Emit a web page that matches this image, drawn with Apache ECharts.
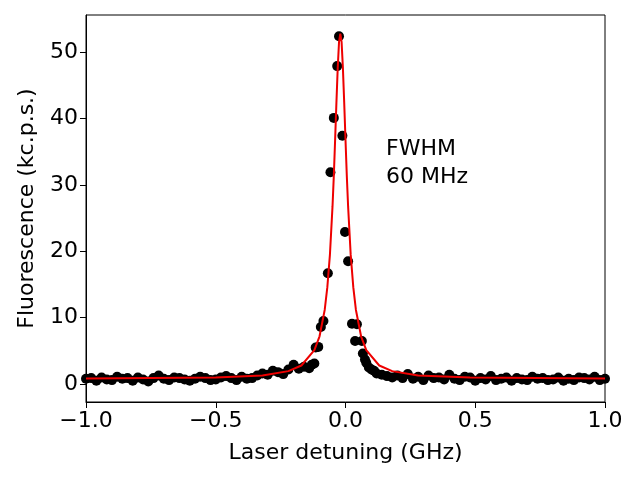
<!DOCTYPE html>
<html><head><meta charset="utf-8">
<script src="https://cdn.jsdelivr.net/npm/echarts@6/dist/echarts.min.js"></script>
<style>html,body{margin:0;background:#fff}#c{width:640px;height:480px}</style>
</head><body><div id="c"></div>
<script>
// measured points (GHz, kc.p.s.)
const dataX = [-1.0,-0.98,-0.96,-0.94,-0.92,-0.9,-0.88,-0.86,-0.84,-0.82,-0.8,-0.78,-0.76,-0.74,-0.72,-0.7,-0.68,-0.66,-0.64,-0.62,-0.6,-0.58,-0.56,-0.54,-0.52,-0.5,-0.48,-0.46,-0.44,-0.42,-0.4,-0.38,-0.36,-0.34,-0.32,-0.3,-0.28,-0.26,-0.24,-0.22,-0.2,-0.18,-0.16,-0.14,-0.13,-0.12,-0.115,-0.105,-0.095,-0.085,-0.068,-0.058,-0.045,-0.032,-0.025,-0.012,-0.002,0.01,0.025,0.037,0.044,0.063,0.067,0.075,0.08,0.09,0.1,0.11,0.12,0.14,0.16,0.18,0.2,0.22,0.24,0.26,0.28,0.3,0.32,0.34,0.36,0.38,0.4,0.42,0.44,0.46,0.48,0.5,0.52,0.54,0.56,0.58,0.6,0.62,0.64,0.66,0.68,0.7,0.72,0.74,0.76,0.78,0.8,0.82,0.84,0.86,0.88,0.9,0.92,0.94,0.96,0.98,1.0];
const dataY = [0.8,0.9,0.5,1.0,0.7,0.6,1.1,0.8,0.9,0.5,1.0,0.7,0.4,0.9,1.3,0.8,0.6,1.0,0.9,0.7,0.5,0.8,1.1,0.9,0.6,0.7,1.0,1.2,0.9,0.6,1.1,0.8,0.9,1.3,1.6,1.4,2.0,1.8,1.5,2.2,2.9,2.3,2.6,2.4,2.9,3.1,5.5,5.6,8.6,9.5,16.7,31.9,40.1,47.9,52.4,37.4,22.9,18.5,9.1,6.5,9.0,6.5,4.6,3.7,3.2,2.5,2.2,2.0,1.6,1.4,1.2,1.0,1.3,0.9,1.5,0.8,1.1,0.6,1.3,0.9,1.0,0.7,1.4,0.8,0.6,1.1,1.0,0.5,0.9,0.7,1.2,0.6,0.8,1.0,0.5,0.9,0.7,0.6,1.1,0.8,0.9,0.6,0.7,1.0,0.5,0.8,0.6,1.0,0.9,0.7,1.1,0.6,0.8];
// Lorentzian fit curve (typed samples)
const fitX = [-1.0,-0.5,-0.32,-0.22,-0.17,-0.12,-0.1,-0.08,-0.07,-0.06,-0.05,-0.045,-0.04,-0.035,-0.03,-0.025,-0.02,-0.015,-0.01,-0.005,0.0,0.005,0.01,0.02,0.03,0.04,0.06,0.08,0.13,0.18,0.28,0.48,1.0];
const fitY = [0.85,1.0,1.3,1.95,2.8,5.1,7.2,11.2,14.6,19.5,26.8,31.4,36.8,42.4,47.6,51.5,52.8,51.5,47.6,42.4,36.8,31.4,26.8,19.5,14.6,11.2,7.2,5.1,2.8,1.95,1.3,1.0,0.85];
const xTicks = [-1.0,-0.5,0.0,0.5,1.0];

const pts = dataX.map((x,i)=>[x,dataY[i]]);
const fit = fitX.map((x,i)=>[x,fitY[i]]);
const font = 'DejaVu Sans';
const axisCommon = {
  axisLine:{onZero:false,lineStyle:{color:'#000',width:1}},
  axisTick:{inside:false,length:6,lineStyle:{color:'#000'}},
  splitLine:{show:false},
  axisLabel:{color:'#000',fontSize:22,fontFamily:font,margin:8},
  nameTextStyle:{color:'#000',fontSize:22,fontFamily:font}
};
const chart = echarts.init(document.getElementById('c'));
chart.setOption({
  animation:false,
  grid:{left:86,right:35,top:15,bottom:78,show:true,borderColor:'#000',borderWidth:1},
  xAxis:Object.assign({type:'value',min:-1,max:1,interval:0.5,name:'Laser detuning (GHz)',nameLocation:'middle',nameGap:40,
    axisLabel:Object.assign({},axisCommon.axisLabel,{formatter:v=>xTicks.includes(v)?v.toFixed(1).replace('-','\u2212'):''})},
    {axisLine:axisCommon.axisLine,axisTick:axisCommon.axisTick,splitLine:axisCommon.splitLine,nameTextStyle:axisCommon.nameTextStyle}),
  yAxis:Object.assign({type:'value',min:-2.7,max:55.6,name:'Fluorescence (kc.p.s.)',nameLocation:'middle',nameGap:48,
    axisLabel:Object.assign({},axisCommon.axisLabel,{customValues:[0,10,20,30,40,50]}),
    axisTick:Object.assign({},axisCommon.axisTick,{customValues:[0,10,20,30,40,50]})},
    {axisLine:axisCommon.axisLine,splitLine:axisCommon.splitLine,nameTextStyle:axisCommon.nameTextStyle}),
  series:[
    {type:'scatter',data:pts,symbolSize:10,itemStyle:{color:'#000',opacity:1}},
    {type:'line',data:fit,symbol:'none',lineStyle:{color:'#e00',width:2}}
  ],
  graphic:[{type:'text',left:386,top:135,style:{text:'FWHM\n60 MHz',fontSize:22,fontFamily:font,fill:'#000',lineHeight:28}}]
});
</script></body></html>
